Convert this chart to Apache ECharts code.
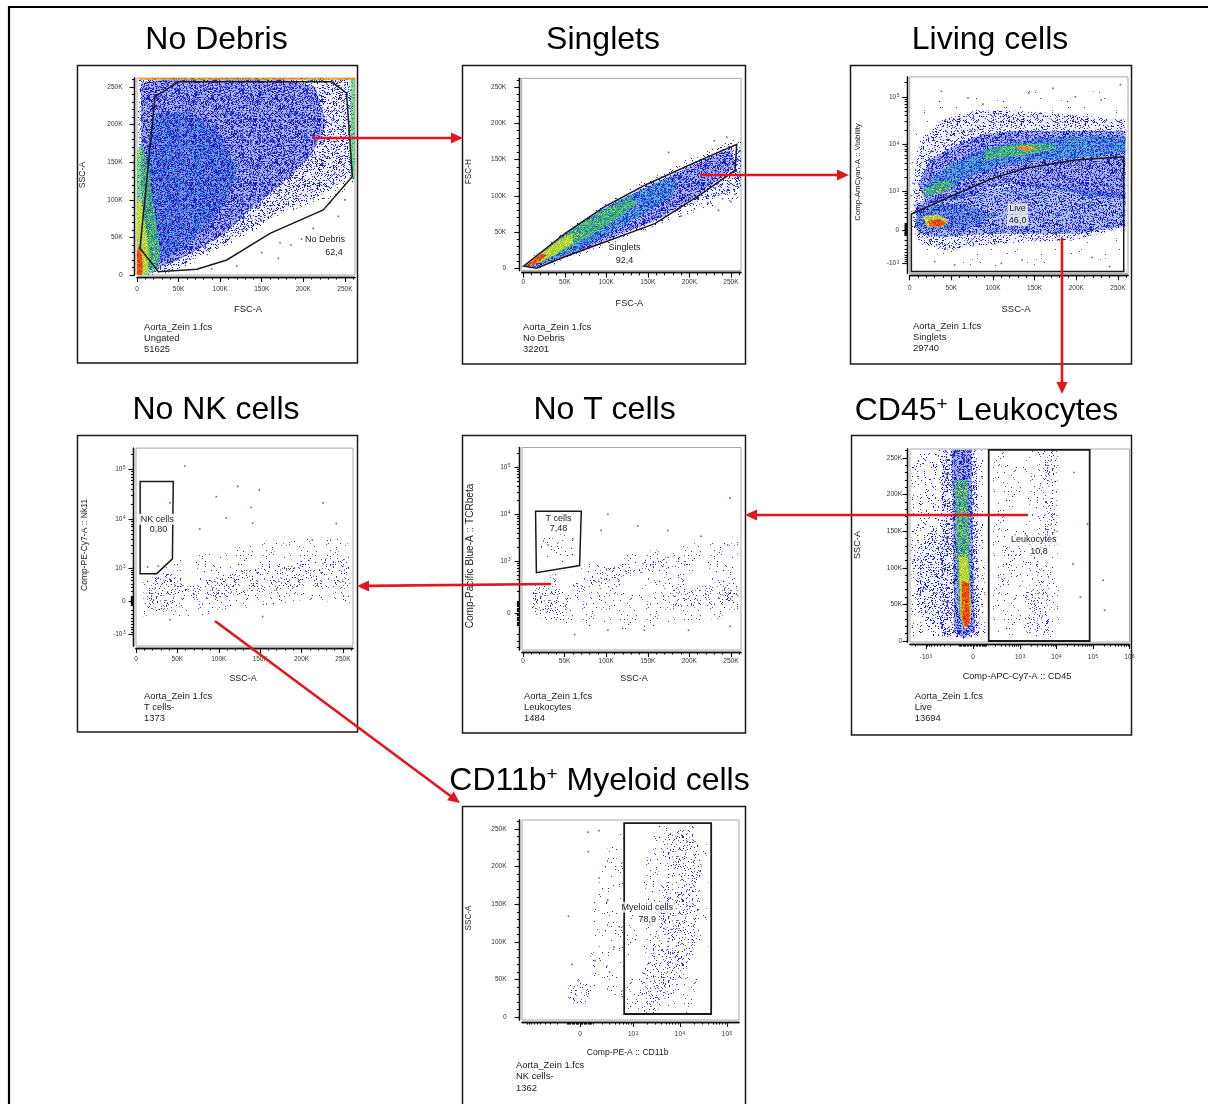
<!DOCTYPE html>
<html><head><meta charset="utf-8">
<script src="https://cdn.jsdelivr.net/npm/echarts@6/dist/echarts.min.js"></script>
<style>html,body{margin:0;padding:0;background:#fff}#c{width:1208px;height:1104px}</style>
</head><body><div id="c"></div>
<script>
// ================= DATA =================
const titleTexts = ['No Debris','Singlets','Living cells','No NK cells','No T cells','CD45{s|+} Leukocytes','CD11b{s|+} Myeloid cells'];
const sampleFile = 'Aorta_Zein 1.fcs';
const parentNames = ['Ungated','No Debris','Singlets','T cells-','Leukocytes','Live','NK cells-'];
const eventCounts = ['51625','32201','29740','1373','1484','13694','1362'];
const xAxisNames = ['FSC-A','FSC-A','SSC-A','SSC-A','SSC-A','Comp-APC-Cy7-A :: CD45','Comp-PE-A :: CD11b'];
const yAxisNames = ['SSC-A','FSC-H','Comp-AmCyan-A :: Viability','Comp-PE-Cy7-A :: Nk11','Comp-Pacific Blue-A :: TCRbeta','SSC-A','SSC-A'];
const gateNames = ['No Debris','Singlets','Live','NK cells','T cells','Leukocytes','Myeloid cells'];
const gateFreqs = ['62,4','92,4','46,0','0,80','7,48','10,8','78,9'];
// tick labels
const linTicksK = [0,50,100,150,200,250];
const logTicksP3 = [-1e3,0,1e3,1e4,1e5];
const logTicksP4 = [-1e3,0,1e3,1e4,1e5];
const logTicksP5 = [0,1e3,1e4,1e5];
const logTicksP6 = [-1e3,0,1e3,1e4,1e5,1e6];
const logTicksP7 = [0,1e3,1e4,1e5];
// gate label anchor values (data units)
const gateNamePos = [[226,47.5],[122,28.4],[129.6,380],[25.7,9870],[42.5,8180],[2370,137.9],[2010,145.9]];
const gateFreqPos = [[237,29.7],[122,11.4],[129.6,155],[27.3,6020],[42.5,4910],[3320,121.9],[2010,130.3]];

// Panel 1: FSC-A (K) vs SSC-A (K)
const p1Gate = [[3.6,35.5],[21.6,237],[49.7,257],[234,257],[252,242],[259,131],[224,86.5],[160,55.5],[108,20],[72,7.6],[25.6,4.4]];
const p1Sparse = [[0,0],[0,262],[262,262],[262,118],[230,100],[200,92],[160,72],[130,52],[108,38],[80,22],[55,10],[35,2],[25,0]];
const p1Medium = [[3,5],[3,262],[258,262],[258,135],[225,108],[190,92],[160,76],[130,58],[105,42],[80,27],[55,14],[35,5]];
const p1Dense = [[5,10],[5,255],[40,262],[170,262],[215,250],[228,200],[210,160],[175,122],[140,90],[110,60],[80,38],[50,20],[25,10]];
const p1Cyan = [[10,15],[8,140],[20,210],[60,220],[100,190],[120,140],[110,100],[85,65],[55,35],[30,18]];
const p1Green = [[0,0],[0,165],[6,175],[14,140],[20,90],[26,50],[28,20],[20,3],[10,0]];
const p1Yellow = [[0,0],[0,95],[5,100],[11,60],[15,25],[12,3],[6,0]];
const p1Red = [[0,0],[0,35],[4,40],[7,15],[6,0]];
const p1EdgeRight = [[257,128],[257,262.2],[262.2,262.2],[262.2,128]];
const p1EdgeTop = [[3,259.5],[262.2,259.5],[262.2,262.2],[3,262.2]];
const p1Outliers = [[242,78],[172,43],[212,62],[185,40],[232,96],[150,30],[198,48],[250,100],[170,22],[120,12],[90,8]];

// Panel 2: FSC-A (K) vs FSC-H (K)
const p2Gate = [[0.4,3],[50,48],[98,85],[147,115],[199,142],[257,171],[255,135],[215,103],[159,62],[100,37],[50,16],[16,0]];
const p2Sparse = [[0,0],[0,6],[40,42],[100,90],[150,124],[200,152],[240,172],[262,180],[262,95],[235,88],[200,75],[160,58],[120,40],[80,22],[40,6],[20,0]];
const p2Medium = [[1,1],[45,44],[100,86],[150,116],[200,144],[255,172],[262,160],[262,110],[230,98],[200,88],[160,66],[110,42],[60,18],[20,2]];
const p2Dense = [[2,2],[45,43],[100,84],[150,113],[200,140],[250,165],[255,140],[215,105],[160,66],[110,44],[60,20],[18,2]];
const p2Cyan = [[3,3],[40,38],[80,72],[125,100],[170,122],[185,120],[180,100],[150,78],[110,52],[70,28],[30,8]];
const p2Green = [[4,4],[35,33],[70,62],[105,85],[130,98],[135,88],[110,66],[80,45],[50,25],[20,8]];
const p2Yellow = [[4,4],[20,19],[45,40],[60,48],[60,35],[40,20],[20,8]];
const p2Red = [[3,3],[12,12],[22,20],[28,18],[20,10],[8,3]];
const p2Outliers = [[230,176],[245,181],[259,112],[255,102],[240,96],[222,90],[206,82],[190,72],[175,160],[261,162],[250,92],[235,80]];

// Panel 3: SSC-A (K) vs Viability (fluorescence)
const p3Gate = [[2,-1600],[2,268],[48,755],[99.5,1907],[139,3108],[199,4640],[257,5470],[257,-1600]];
const p3VerySparse = [[2,4700],[6,44000],[40,90000],[99.5,120000],[179,140000],[259,120000],[259,-820],[159,-1100],[80,-1200],[20,-950],[2,-350]];
const p3Medium = [[6,2900],[16,14500],[40,33000],[80,52000],[119,52000],[179,44000],[259,33000],[259,50],[199,-190],[139,-220],[80,-320],[40,-430],[12,-270],[4,50]];
const p3DenseUpper = [[10,1450],[24,4700],[52,9000],[88,16500],[127,19000],[179,19000],[259,19000],[259,660],[199,920],[159,1250],[119,1450],[88,1100],[52,660],[20,520]];
const p3DenseLower = [[6,520],[40,780],[88,1100],[139,1400],[199,1100],[259,900],[259,50],[199,-70],[139,-70],[88,-70],[40,-130],[10,-70]];
const p3CyanUpper = [[16,1250],[40,2900],[80,7000],[119,10500],[159,13500],[219,14500],[259,14500],[259,7000],[199,5000],[159,4700],[119,3900],[80,2350],[40,1100],[20,780]];
const p3CyanLower = [[8,420],[40,520],[80,420],[99.5,230],[80,50],[40,25],[8,25]];
const p3GreenUpper = [[88,7000],[119,9700],[159,10500],[179,9000],[159,7000],[119,5400],[92,4700]];
const p3GreenLeft = [[16,1100],[40,1700],[56,1450],[40,920],[20,780]];
const p3YellowLower = [[16,230],[32,260],[48,165],[40,50],[20,50]];
const p3RedLower = [[22,145],[36,175],[44,105],[36,50],[24,60]];
const p3OrangeUpper = [[127,9000],[143,9500],[151,7600],[135,7300]];
const p3Outliers = [[38,130000],[172,150000],[253,180000],[199,100000],[88,70000],[143,120000],[54,-1100],[135,-820],[219,-700],[110,-1000],[30,-900],[240,-1200],[5,300],[4,1500],[2,800],[70,95000],[230,85000]];

// Panel 4: SSC-A (K) vs Nk11
const p4Gate = [[5,56000],[45,56000],[44,1560],[25,740],[5,740]];
const p4Sparse = [[9,-360],[9,510],[41,1290],[101,2400],[161,3800],[222,4400],[258,3800],[258,-50],[202,20],[121,-195],[81,-360],[41,-360]];
const p4Blob = [[13,-195],[13,420],[33,780],[53,640],[65,250],[53,-120],[33,-240]];
const p4Band = [[61,320],[121,900],[182,1290],[242,1700],[258,1500],[258,250],[202,320],[121,95],[73,20]];
const p4Orange = [[18,200],[28,300],[30,180],[20,120]];
const p4Outliers = [[59,115000],[123,45000],[149,38000],[97,28000],[139,17000],[226,21000],[109,10500],[77,6300],[141,8300],[242,8100],[41,21000],[213,3800],[153,-360],[41,-450],[27,1100],[14,1050]];

// Panel 5: SSC-A (K) vs TCRbeta
const p5Gate = [[15,11500],[70,11500],[68,800],[16,560]];
const p5Sparse = [[8,24],[10,270],[38,540],[98,1080],[158,1750],[199,2400],[259,2800],[259,-30],[199,-70],[118,-150],[58,-85],[18,-55]];
const p5TCells = [[20,3500],[58,4500],[66,1080],[22,760]];
const p5Blob = [[10,-30],[12,200],[26,320],[38,270],[58,140],[54,-15],[34,-55]];
const p5BandUpper = [[60,300],[100,700],[150,1100],[190,1300],[200,800],[150,600],[100,350],[60,150]];
const p5BandLower = [[180,260],[259,280],[259,60],[180,50]];
const p5Outliers = [[249,22000],[94,4500],[102,10000],[138,5600],[174,4500],[214,3400],[246,2200],[199,-150],[146,-150],[102,-150],[249,-110],[60,3000],[30,2200],[62,-200]];

// Panel 6: CD45 vs SSC-A (K)
const p6Gate = [[120,0],[120,261],[81000,261],[81000,0]];
const p6SparseLeft = [[-2500,259],[-200,261],[67,261],[90,6],[-2500,6]];
const p6MediumBand = [[-380,261],[22,261],[45,5],[-380,5]];
const p6MediumLowerLeft = [[-2270,115],[-800,152],[-334,143],[-334,15],[-1480,33]];
const p6DenseBand = [[-185,261],[-11,261],[11,15],[-67,3],[-150,15]];
const p6Green = [[-150,220],[-33,220],[-11,42],[-67,15],[-105,42]];
const p6Yellow = [[-105,115],[-33,115],[-11,33],[-55,15],[-90,33]];
const p6Red = [[-80,83],[-25,78],[-20,24],[-55,19],[-80,33]];
const p6GateSparse = [[168,258],[10000,261],[12000,5],[168,5]];
const p6Cluster = [[1480,70],[5200,70],[6800,11],[1220,11]];
const p6VerticalBand = [[4300,261],[11000,261],[10000,138],[4300,138]];
const p6Middle = [[300,130],[5200,138],[6800,70],[300,70]];
const p6Outliers = [[28300,105],[190000,83],[208000,42],[70000,160],[30000,230],[45000,60]];

// Panel 7: CD11b vs SSC-A (K)
const p7Gate = [[640,4],[640,258],[46000,258],[46000,4]];
const p7Sparse = [[730,5],[730,111],[1520,178],[2940,258],[40100,258],[40100,67],[15000,5]];
const p7Band = [[1100,9],[1520,58],[2940,102],[4070,156],[5660,244],[20800,253],[28900,200],[24600,111],[15000,67],[5660,23],[2940,5]];
const p7SpotUpper = [[4500,115],[9000,118],[11000,80],[6000,75]];
const p7SpotLower = [[1800,45],[3500,42],[4000,15],[2000,18]];
const p7NegCluster = [[-125,40],[-12,51],[90,40],[62,18],[-88,18]];
const p7Between = [[62,40],[112,156],[335,244],[665,261],[665,23]];
const p7Outliers = [[62,246],[160,248],[62,220],[160,185],[-88,134],[380,93],[270,156],[-60,70],[120,75],[500,120],[300,60]];

// ================= LAYOUT / STYLE =================
const panelGeom = [
  {grid:[137,78,218,197],        box:[77.5,65.5,280,297.5],  xm:9,   ym:12},
  {grid:[521.7,78.3,219.3,192.4],box:[462.5,65.5,283,298.5], xm:6.5, ym:13},
  {grid:[909.7,76.9,218.3,196.4],box:[850.5,65.5,281,298.5], xm:9,   ym:8},
  {grid:[136,448.1,217,197.9],   box:[77.5,435.5,280,296.5], xm:8,   ym:8},
  {grid:[522,447.5,219,202.5],   box:[462.5,435.5,283,297.5],xm:6,   ym:9},
  {grid:[910,449,219.5,193],     box:[851.5,435.5,280,299.5],xm:10,  ym:5.5},
  {grid:[522,820,217,200],       box:[462.5,806.5,283,320],  xm:9,   ym:13}
];
const axisDefs = [
  {x:{kind:'lin',min:0,max:262.144},   y:{kind:'lin',min:0,max:262.144}},
  {x:{kind:'lin',min:-1.9,max:262.144},y:{kind:'lin',min:-3.3,max:262.144}},
  {x:{kind:'lin',min:0,max:262.144},   y:{kind:'bx',w:313,neg:0.86,min:-0.91,maxV:262144,labels:logTicksP3}},
  {x:{kind:'lin',min:0,max:262.144},   y:{kind:'bx',w:459,neg:1,min:-0.902,maxV:262144,labels:logTicksP4}},
  {x:{kind:'lin',min:-1.3,max:262.144},y:{kind:'bx',w:158,neg:1,min:-0.787,maxV:262144,labels:logTicksP5}},
  {x:{kind:'bx',w:103,neg:1,min:-1.726,maxV:1e6,labels:logTicksP6}, y:{kind:'lin',min:-1.37,max:262.144}},
  {x:{kind:'bx',w:149,neg:1,min:-1.234,max:3.383,labels:logTicksP7}, y:{kind:'lin',min:-4,max:262.144}}
];
const panelLayers = [
  [[p1Sparse,'s'],[p1Medium,'m'],[p1Dense,'d'],[p1Cyan,'c1'],[p1Green,'g'],[p1Yellow,'y'],[p1Red,'r'],[p1EdgeRight,'g'],[p1EdgeTop,'o']],
  [[p2Sparse,'s'],[p2Medium,'m'],[p2Dense,'d'],[p2Cyan,'c'],[p2Green,'g'],[p2Yellow,'y'],[p2Red,'r']],
  [[p3VerySparse,'vs'],[p3Medium,'m'],[p3DenseUpper,'d'],[p3DenseLower,'d2'],[p3CyanUpper,'c'],[p3CyanLower,'c1'],[p3GreenUpper,'g'],[p3GreenLeft,'g'],[p3YellowLower,'y'],[p3RedLower,'r'],[p3OrangeUpper,'o']],
  [[p4Sparse,'ls'],[p4Blob,'lm'],[p4Band,'lm2'],[p4Orange,'lo']],
  [[p5Sparse,'ls'],[p5TCells,'ls2'],[p5Blob,'lm'],[p5BandUpper,'lm2'],[p5BandLower,'lm2']],
  [[p6SparseLeft,'s'],[p6MediumBand,'m'],[p6MediumLowerLeft,'m2'],[p6DenseBand,'d'],[p6Green,'g'],[p6Yellow,'y'],[p6Red,'r'],[p6GateSparse,'ls'],[p6Cluster,'lm3'],[p6VerticalBand,'lm'],[p6Middle,'ls2']],
  [[p7Sparse,'ls'],[p7Band,'lm'],[p7SpotUpper,'lm2'],[p7SpotLower,'lm2'],[p7NegCluster,'lm3'],[p7Between,'ls2']]
];
const panelGates = [p1Gate,p2Gate,p3Gate,p4Gate,p5Gate,p6Gate,p7Gate];
const panelOutliers = [p1Outliers,p2Outliers,p3Outliers,p4Outliers,p5Outliers,p6Outliers,p7Outliers];
const labelBg = ['transparent','transparent','rgba(226,233,236,0.9)','rgba(255,255,255,0.85)','rgba(255,255,255,0.6)','rgba(255,255,255,0.6)','rgba(255,255,255,0.75)'];

const titlePos = [[216.5,40.5],[603,40.5],[990,40.5],[216,410],[604.5,410],[986.5,411],[599.5,781]];
const xNamePos = [[248,309],[629.3,303.3],[1016,309],[243,679],[634,679],[1017,676.7],[627.7,1053]];
const yNamePos = [[83,175],[468.3,171.7],[858,172],[85,545],[470,556],[857,545],[469,918]];
const xNameSize = [9.4,9.2,9.5,8.9,9,9.2,8.65];
const yNameSize = [8.7,8.2,7.9,8.5,10.1,9.2,8.2];
const infoPos = [[144,327],[523,327],[913,326.7],[144,696.7],[524,696.7],[914.7,696.7],[516,1065]];
const infoStep = [11,11,11,11,11,11,11.7];
const arrowPaths = [[312,138,463,138],[700,175,849,175],[1062,238,1062,394],[1028,515,745,515],[551,584,357,586],[215,621,460,803]];

const FONT = '"Liberation Sans", Arial, Helvetica, sans-serif';
// density textures (dot count per 64x64 tile)
const BLUES = ['#1010c8','#2a2ad8','#0000b0','#3a4ae0','#1a30c8','#4a5ae4'];
const LBLUES = ['#3434d4','#5a5ae0','#7b7be6','#2020c0','#4646da'];
const TEX_SPECS = {
  vs:{n:40,colors:LBLUES},
  s:{n:260,colors:BLUES},
  m:{n:900,base:'rgba(40,40,210,0.08)',colors:BLUES},
  m2:{n:650,base:'rgba(40,40,210,0.05)',colors:BLUES},
  d:{n:1500,base:'rgba(20,30,200,0.3)',colors:BLUES.concat(['#3070e0'])},
  d2:{n:1300,base:'rgba(20,30,200,0.25)',colors:BLUES.concat(['#2090e0','#30b0d0'])},
  c1:{n:1300,base:'rgba(20,50,200,0.25)',colors:['#1a1ad0','#2a7ae0','#30b0d0','#2020b0','#20a0c0','#3050d8']},
  c:{n:1500,base:'rgba(30,110,210,0.35)',colors:['#20a8e0','#1838d0','#30c8c0','#1070e0','#40d0a0','#2050d0']},
  g:{n:1700,base:'rgba(60,185,90,0.55)',colors:['#40c840','#20b0a0','#90d840','#30a8d0','#60d060','#c0e040']},
  y:{n:1800,base:'rgba(215,228,40,0.7)',colors:['#e8e820','#a8d830','#f8c820','#f0f040','#70c840']},
  r:{n:1800,base:'rgba(240,50,20,0.85)',colors:['#ff2000','#ff8000','#e80000','#ff5000','#f0c000']},
  o:{n:1300,base:'rgba(245,150,30,0.7)',colors:['#ff9000','#ffd000','#ff4000']},
  ls:{n:120,colors:LBLUES},
  ls2:{n:110,colors:LBLUES},
  lm:{n:330,colors:LBLUES},
  lm2:{n:320,colors:LBLUES},
  lm3:{n:420,colors:LBLUES},
  lo:{n:90,colors:['#e07040','#c05070','#f09040']}
};

// ================= HELPERS =================
const biexp = (w, neg) => v => (v >= 0 ? 1 : neg) * Math.asinh(v / w) / Math.LN10;
const lin = v => v;
// integer hash (lowbias32) used only to scatter texture dots inside a tile
function hash32(x) {
  x = x >>> 0;
  x ^= x >>> 16; x = Math.imul(x, 0x7feb352d);
  x ^= x >>> 15; x = Math.imul(x, 0x846ca68b);
  x ^= x >>> 16;
  return (x >>> 0) / 4294967296;
}
const texCache = {};
function texture(key) {
  if (texCache[key]) return texCache[key];
  const spec = TEX_SPECS[key]; const S = 64;
  const c = document.createElement('canvas'); c.width = S; c.height = S;
  const ctx = c.getContext('2d');
  if (spec.base) { ctx.fillStyle = spec.base; ctx.fillRect(0, 0, S, S); }
  const seed = (Object.keys(TEX_SPECS).indexOf(key) + 1) * 7919 * 4096;
  for (let i = 0; i < spec.n; i++) {
    const px = hash32(seed + 2 * i), py = hash32(seed + 2 * i + 1);
    ctx.fillStyle = spec.colors[i % spec.colors.length];
    ctx.fillRect(Math.floor(px * S), Math.floor(py * S), 1, 1);
  }
  texCache[key] = {image: c, repeat: 'repeat'};
  return texCache[key];
}
const bxLabel = v => v === 0 ? '0' : (v < 0 ? '-' : '') + '10{s|' + Math.round(Math.log10(Math.abs(v))) + '}';

function buildAxis(def) {
  if (def.kind === 'lin') {
    const major = linTicksK.filter(v => v >= def.min && v <= def.max);
    const minor = []; for (let v = 0; v <= def.max + 1e-9; v += 10) minor.push(v);
    return {f: lin, min: def.min, max: def.max, major, minor, fmt: v => (Math.abs(v) < 1e-9 ? '0' : Math.round(v) + 'K')};
  }
  const f = biexp(def.w, def.neg);
  const min = def.min, max = def.max != null ? def.max : f(def.maxV);
  const major = def.labels.map(f);
  const minor = [];
  for (let k = 1; k <= 6; k++) for (let m = 1; m <= 9; m++) for (const s of [1, -1]) {
    const t = f(s * m * Math.pow(10, k)); if (t >= min && t <= max + 1e-9) minor.push(t);
  }
  const fmt = v => { const i = major.findIndex(t => Math.abs(t - v) < 1e-6); return i < 0 ? '' : bxLabel(def.labels[i]); };
  return {f, min, max, major, minor, fmt};
}

const grids = [], xAxes = [], yAxes = [], series = [], graphics = [];
const txt = (x, y, text, size, opts = {}) => ({
  type: 'text', x, y, rotation: opts.rot || 0, silent: true, z: 50,
  style: Object.assign({text, fontSize: size, fontFamily: FONT, fill: opts.fill || '#111',
    textAlign: opts.align || 'center', textVerticalAlign: 'middle', align: opts.align || 'center', verticalAlign: 'middle'}, opts.style || {})
});

panelGeom.forEach((pg, i) => {
  const [gl, gt, gw, gh] = pg.grid;
  grids.push({left: gl, top: gt, width: gw, height: gh, show: true, borderColor: '#a8a8a8', borderWidth: 1, backgroundColor: 'transparent', containLabel: false, outerBoundsMode: 'none'});
  grids.push({left: gl, top: gt, width: gw, height: gh, show: false, containLabel: false, outerBoundsMode: 'none'});
  const ax = buildAxis(axisDefs[i].x), ay = buildAxis(axisDefs[i].y);
  const mk = (a, dim, gi, isMinor, margin) => ({
    type: 'value', gridIndex: gi, min: a.min, max: a.max,
    position: dim === 'x' ? 'bottom' : 'left', offset: dim === 'x' ? 2 : 2.5,
    axisLine: {show: true, onZero: false, lineStyle: {color: '#111', width: 1.3}},
    axisTick: {show: true, inside: false, length: isMinor ? 2.6 : 5, customValues: isMinor ? a.minor : a.major, lineStyle: {color: '#111', width: 1.1}},
    axisLabel: {show: !isMinor, customValues: a.major, formatter: a.fmt, fontSize: 6.5, fontFamily: FONT, color: '#333', margin,
      rich: {s: {fontSize: 4.6, fontFamily: FONT, color: '#333', verticalAlign: 'top', padding: [0, 0, 0, 0.5]}}},
    splitLine: {show: false}, minorTick: {show: false}, minorSplitLine: {show: false}
  });
  xAxes.push(mk(ax, 'x', 2 * i, false, pg.xm)); xAxes.push(mk(ax, 'x', 2 * i + 1, true, pg.xm));
  yAxes.push(mk(ay, 'y', 2 * i, false, pg.ym)); yAxes.push(mk(ay, 'y', 2 * i + 1, true, pg.ym));
  const tr = p => [ax.f(p[0]), ay.f(p[1])];
  const polySeries = (pts, styleFn, z) => {
    const data = pts.map(tr);
    return {type: 'custom', xAxisIndex: 2 * i, yAxisIndex: 2 * i, clip: true, silent: true, animation: false, z, data,
      renderItem: (params, api) => {
        if (params.dataIndex !== 0) return null;
        return {type: 'polygon', shape: {points: data.map(d => api.coord(d))}, style: styleFn()};
      }};
  };
  panelLayers[i].forEach(([pts, key], li) => series.push(polySeries(pts, () => ({fill: texture(key), stroke: null}), 2 + li * 0.01)));
  series.push({type: 'scatter', xAxisIndex: 2 * i, yAxisIndex: 2 * i, silent: true, animation: false, z: 3,
    symbol: 'rect', symbolSize: 1.6, itemStyle: {color: '#3535cc'}, data: panelOutliers[i].map(tr)});
  series.push(polySeries(panelGates[i], () => ({fill: 'none', stroke: '#1a1a1a', lineWidth: i >= 5 ? 1.8 : 1.5, lineJoin: 'miter'}), 5));
  const lbl = [[gateNamePos[i], gateNames[i]], [gateFreqPos[i], gateFreqs[i]]];
  series.push({type: 'custom', xAxisIndex: 2 * i, yAxisIndex: 2 * i, silent: true, animation: false, z: 6,
    data: lbl.map(l => tr(l[0])),
    renderItem: (params, api) => {
      const c = api.coord([api.value(0), api.value(1)]);
      return {type: 'text', x: c[0], y: c[1], style: {text: lbl[params.dataIndex][1], fontSize: 9, fontFamily: FONT, fill: '#222',
        textAlign: 'center', textVerticalAlign: 'middle', align: 'center', verticalAlign: 'middle',
        backgroundColor: labelBg[i], padding: [1, 2]}};
    }});

  const [bx, by, bw, bh] = pg.box;
  graphics.push({type: 'rect', silent: true, z: 40, shape: {x: bx, y: by, width: bw, height: bh}, style: {fill: 'none', stroke: '#1a1a1a', lineWidth: 1.5}});
  graphics.push(txt(titlePos[i][0], titlePos[i][1], titleTexts[i], 32, {fill: '#000',
    style: {rich: {s: {fontSize: 19, fontFamily: FONT, fill: '#000', verticalAlign: 'top', lineHeight: 30}}}}));
  graphics.push(txt(xNamePos[i][0], xNamePos[i][1], xAxisNames[i], xNameSize[i], {fill: '#222'}));
  graphics.push(txt(yNamePos[i][0], yNamePos[i][1], yAxisNames[i], yNameSize[i], {fill: '#222', rot: Math.PI / 2}));
  [sampleFile, parentNames[i], eventCounts[i]].forEach((t, k) =>
    graphics.push(txt(infoPos[i][0], infoPos[i][1] + k * infoStep[i], t, 9.4, {fill: '#222', align: 'left'})));
});

arrowPaths.forEach(([x1, y1, x2, y2]) => {
  const dx = x2 - x1, dy = y2 - y1, L = Math.hypot(dx, dy), ux = dx / L, uy = dy / L;
  const hl = 12, hw = 5.5, bxp = x2 - ux * hl, byp = y2 - uy * hl;
  graphics.push({type: 'line', silent: true, z: 60, shape: {x1, y1, x2: bxp + ux, y2: byp + uy}, style: {stroke: '#e3161d', lineWidth: 2.6}});
  graphics.push({type: 'polygon', silent: true, z: 60, shape: {points: [[x2, y2], [bxp - uy * hw, byp + ux * hw], [bxp + uy * hw, byp - ux * hw]]}, style: {fill: '#e3161d'}});
});
graphics.push({type: 'line', silent: true, z: 60, shape: {x1: 8, y1: 7, x2: 1208, y2: 7}, style: {stroke: '#000', lineWidth: 2.2}});
graphics.push({type: 'line', silent: true, z: 60, shape: {x1: 9, y1: 6, x2: 9, y2: 1104}, style: {stroke: '#000', lineWidth: 2.2}});

const chart = echarts.init(document.getElementById('c'), null, {renderer: 'canvas', width: 1208, height: 1104});
chart.setOption({
  animation: false, backgroundColor: '#fff',
  grid: grids, xAxis: xAxes, yAxis: yAxes, series, graphic: {elements: graphics}
});
</script>
</body></html>
